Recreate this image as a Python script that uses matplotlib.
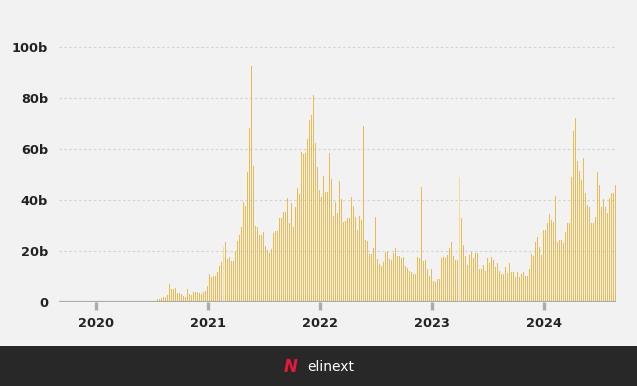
import numpy as np
import matplotlib.pyplot as plt
from matplotlib.patches import Rectangle

# weekly volume, billions
volume_2020_21 = [1, 1, 1.5, 2, 2, 2.6, 7, 5, 5, 5.5, 3.5, 3.5, 3, 2.5, 2, 5, 3, 2.6,
                  4, 4, 4, 3.4, 3, 4, 4.4, 6.4, 10.8, 9.8, 10.3, 10.3, 11.8, 14, 15.7,
                  21.4, 23.5, 16.7, 17.6]
volume_2021_22 = [16.1, 16.1, 19.9, 23.9, 26.4, 29.4, 39.2, 37.6, 51, 68.1,
                  92.5, 53.3, 29.8, 29.4, 26.3, 26.3, 27.3, 22, 20.3, 19.1,
                  20.7, 26.9, 27.8, 27.8, 32.8, 32.8, 35.3, 35.3, 40.7, 30.8,
                  38.7, 29.4, 37.3, 44.6, 42.2, 58.8, 58.2, 58.3, 63.8, 71.5,
                  73.5, 81.3, 62.2, 52.9, 44.1, 41.2, 49.4, 43.1, 43.1, 58.3,
                  48.1, 33.7, 39.2, 34.9, 47.5, 40.3, 31.4, 31.8, 32.8, 32.8,
                  41.2, 37.6, 33.3, 28.2, 33.7, 32.2, 69, 24.3, 23.9, 18.7,
                  18.7, 21, 33.3, 16.7, 14.8, 14.1, 15.6, 19.5, 19.9, 16.7]
volume_2022_23 = [16.6, 19.1, 21.2, 18, 18, 17.3, 17.6, 14.1, 13.2, 12.2,
                  11.6, 10.8, 10.8, 17.6, 17.3, 45.1, 16.1, 16.6, 12.8, 10.2,
                  12.8, 8.2, 7.8, 8.9, 8.9, 17.3, 17.6, 17.3, 18.6, 21.2,
                  23.5, 18, 16.6, 16.6, 49, 32.9, 22.5, 18, 14.6, 18.6,
                  19.6, 17.3, 19.2, 19.2, 12.8, 12.8, 14.6, 12.2, 17.3, 15.3,
                  17.6, 16.6, 13.7, 15.3, 12.2, 10.8, 10.8, 13.7, 11.2, 15.3,
                  11.8, 11.8, 9.8, 11.8, 9.8, 10.8, 11.8, 10.2, 10.2, 12.8,
                  18.8, 18, 23.5, 25.5, 21.6]
volume_2024 = [18.6, 28.4, 28.4, 30.8, 34.4, 32.3, 31.4, 41.6, 23.5, 24.4,
               24.4, 23, 27.5, 30.8, 30.8, 49, 67.1, 72, 55.3, 51.4,
               47.8, 56.3, 42.6, 38.2, 37.3, 30.8, 30.8, 33.3, 51, 45.9,
               37.3, 40.3, 37.3, 34.8, 40.7, 42.6, 42.6, 46]
highlight_idx = [33, 151]

years = [2020, 2021, 2022, 2023, 2024]
y_ticks = [0, 20, 40, 60, 80, 100]
y_labels = ['0', '20b', '40b', '60b', '80b', '100b']

values = np.array(volume_2020_21 + volume_2021_22 + volume_2022_23 + volume_2024)
n = len(values)
step = 1 / 56
x = 2020.547 + np.arange(n) * step

bg = '#f2f2f2'
gold = '#eabc4f'
light_gold = '#f4dc9e'

fig = plt.figure(figsize=(6.37, 3.86), dpi=100, facecolor=bg)
ax = fig.add_axes([59 / 637, 84 / 386, 557 / 637, 265.2 / 386], facecolor=bg)

colors = [light_gold if i in highlight_idx else gold for i in range(n)]
ax.bar(x, values, width=step * 0.5, color=colors, linewidth=0, zorder=3)

ax.set_xlim(2019.670, 2024.643)
ax.set_ylim(0, 104)

for v in y_ticks[1:]:
    ax.axhline(v, color='#d2d2d2', lw=0.8, ls=(0, (2.2, 2.2)), zorder=1)
ax.axhline(0, color='#ababab', lw=1.6, zorder=4)

for s in ax.spines.values():
    s.set_visible(False)

ax.set_yticks(y_ticks)
ax.set_yticklabels(y_labels)
ax.tick_params(axis='y', length=0, pad=8, labelsize=9.3, labelcolor='#222222')
ax.set_xticks(years)
ax.set_xticklabels([str(y) for y in years])
ax.tick_params(axis='x', length=6, width=2.4, color='#ababab', pad=5,
               labelsize=9.3, labelcolor='#222222')
for lab in ax.get_xticklabels() + ax.get_yticklabels():
    lab.set_fontweight('semibold')

# footer band with logo
fig.patches.append(Rectangle((0, 0), 1, 40 / 386, transform=fig.transFigure,
                             facecolor='#282828', edgecolor='none', zorder=0))
fig.text(291 / 637, 19 / 386, 'N', color='#e8173c', fontsize=12, fontweight='bold',
         style='italic', ha='center', va='center')
fig.text(331 / 637, 19 / 386, 'elinext', color='white', fontsize=10,
         ha='center', va='center')

fig.savefig('out.png', dpi=100, facecolor=bg)
